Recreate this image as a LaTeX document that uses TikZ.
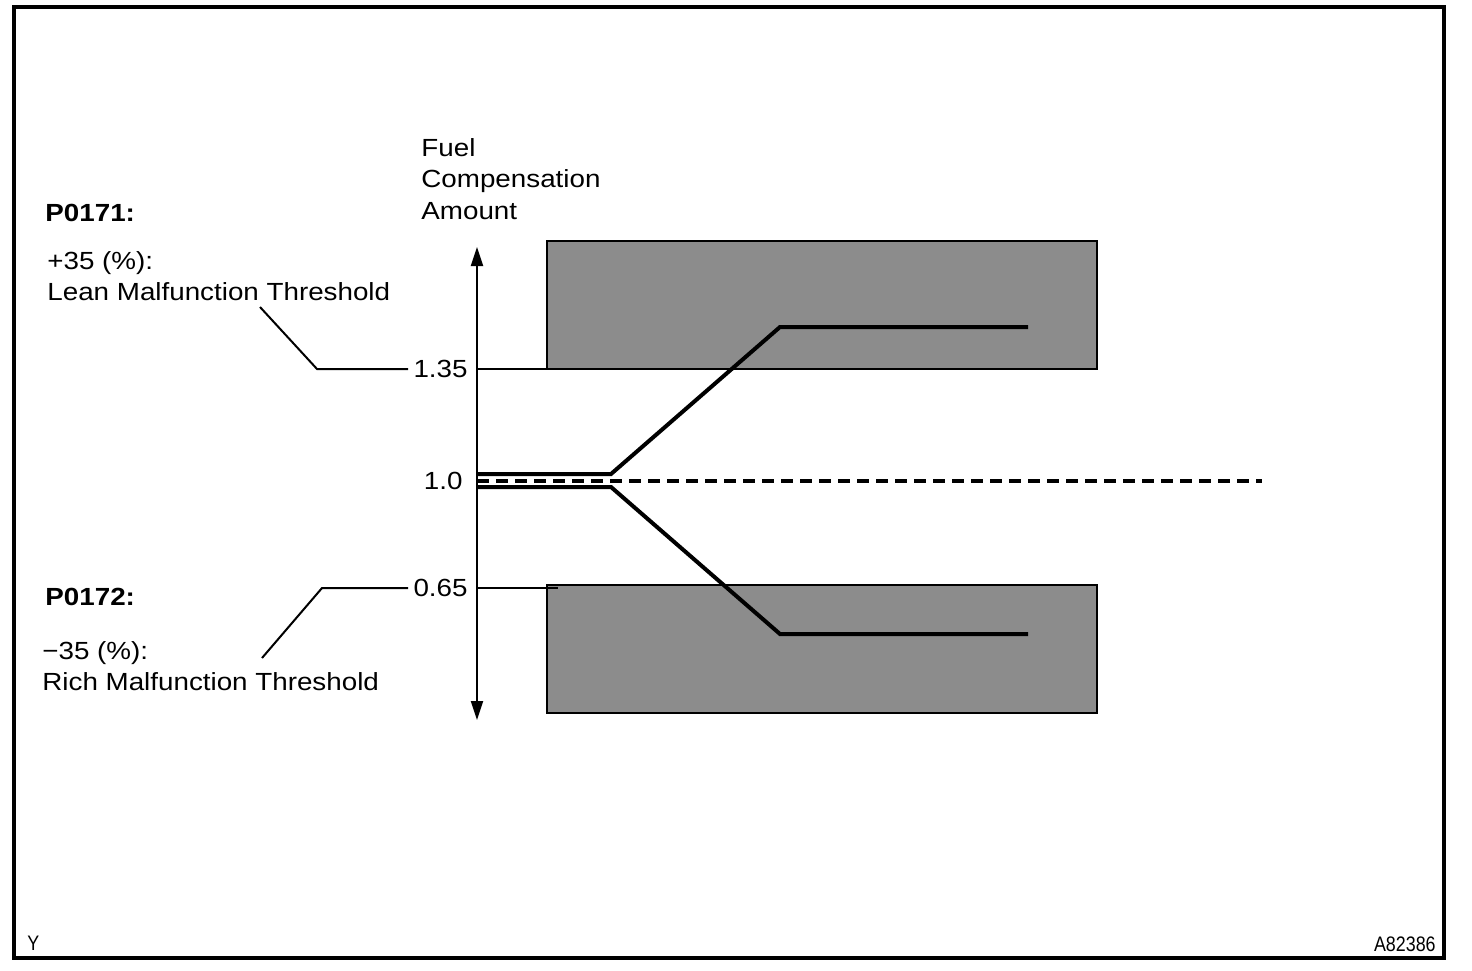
\documentclass[tikz,border=0pt]{standalone}
\usepackage{fontspec}
\setmainfont{Liberation Sans}[FakeStretch=1.12]
\newfontfamily\tagfont{Liberation Sans}[FakeStretch=0.85]
\usepackage{tikz}
\usetikzlibrary{arrows.meta}
\usetikzlibrary{positioning}
\definecolor{zonegray}{RGB}{140,140,140}

\begin{document}
\begin{tikzpicture}[x=0.5pt,y=-0.5pt,
        lbl/.style={inner sep=0pt, align=left, font=\fontsize{12.4}{15.75}\selectfont},
        codelbl/.style={lbl, font=\fontsize{12.4}{15.75}\selectfont\bfseries},
        taglbl/.style={inner sep=0pt, font=\tagfont\fontsize{10.5}{11}\selectfont},
        zone/.style={fill=zonegray, draw=black, line width=1pt},
        leader/.style={line width=1pt},
        trace/.style={line width=2pt, line join=miter}]
    \useasboundingbox (0,0) rectangle (1472,970);
    \draw[line width=2pt] (14,7) rectangle (1444,958);
    % malfunction zones
    \draw[zone] (547,241) rectangle (1097,369);
    \draw[zone] (547,585) rectangle (1097,713);
    % axis and levels
    \coordinate (axtop) at (477,247);
    \coordinate (axbot) at (477,720);
    \coordinate (l135)  at (477,369);
    \coordinate (l100)  at (477,481);
    \coordinate (l065)  at (477,588);
    \draw[line width=1pt, {Triangle[length=9.5pt,width=6pt]}-{Triangle[length=9.5pt,width=6pt]}] (axbot) -- (axtop);
    \node[lbl, anchor=west] (yaxis) at (421,179) {Fuel\\Compensation\\Amount};
    \node[lbl, anchor=east, left=4.5pt of l135] (v135) {1.35};
    \node[lbl, anchor=east, left=7pt of l100]   (v100) {1.0};
    \node[lbl, anchor=east, left=4.5pt of l065] (v065) {0.65};
    \coordinate (z135) at (560,369);
    \coordinate (z065) at (558,588);
    \draw[leader] (l135) -- (z135);
    \draw[leader] (l065) -- (z065);
    % leaders to the thresholds
    \coordinate (k135) at (317,369);
    \coordinate (e135) at (260,307);
    \coordinate (k065) at (322,588);
    \coordinate (e065) at (262,658);
    \draw[leader] ([xshift=-2.5pt]v135.west) -- (k135) -- (e135);
    \draw[leader] ([xshift=-2.5pt]v065.west) -- (k065) -- (e065);
    \node[codelbl, anchor=west] (p171) at (45,213) {P0171:};
    \node[lbl, anchor=west] (lean) at (47,276) {+35 (\%):\\Lean Malfunction Threshold};
    \node[codelbl, anchor=west] (p172) at (45,597) {P0172:};
    \node[lbl, anchor=west] (rich) at (42,666) {−35 (\%):\\Rich Malfunction Threshold};
    % compensation traces
    \coordinate (dend) at (1262,481);
    \draw[trace, dash pattern=on 6pt off 3.5pt] (l100) -- (dend);
    \draw[trace] (477,474) -- (611,474) -- (780,327) -- (1028,327);
    \draw[trace] (477,487) -- (611,487) -- (780,634) -- (1028,634);
    \node[taglbl, anchor=west] (ycode) at (27,943) {Y};
    \node[taglbl, anchor=east] (figid) at (1436,944) {A82386};
\end{tikzpicture}
\end{document}
